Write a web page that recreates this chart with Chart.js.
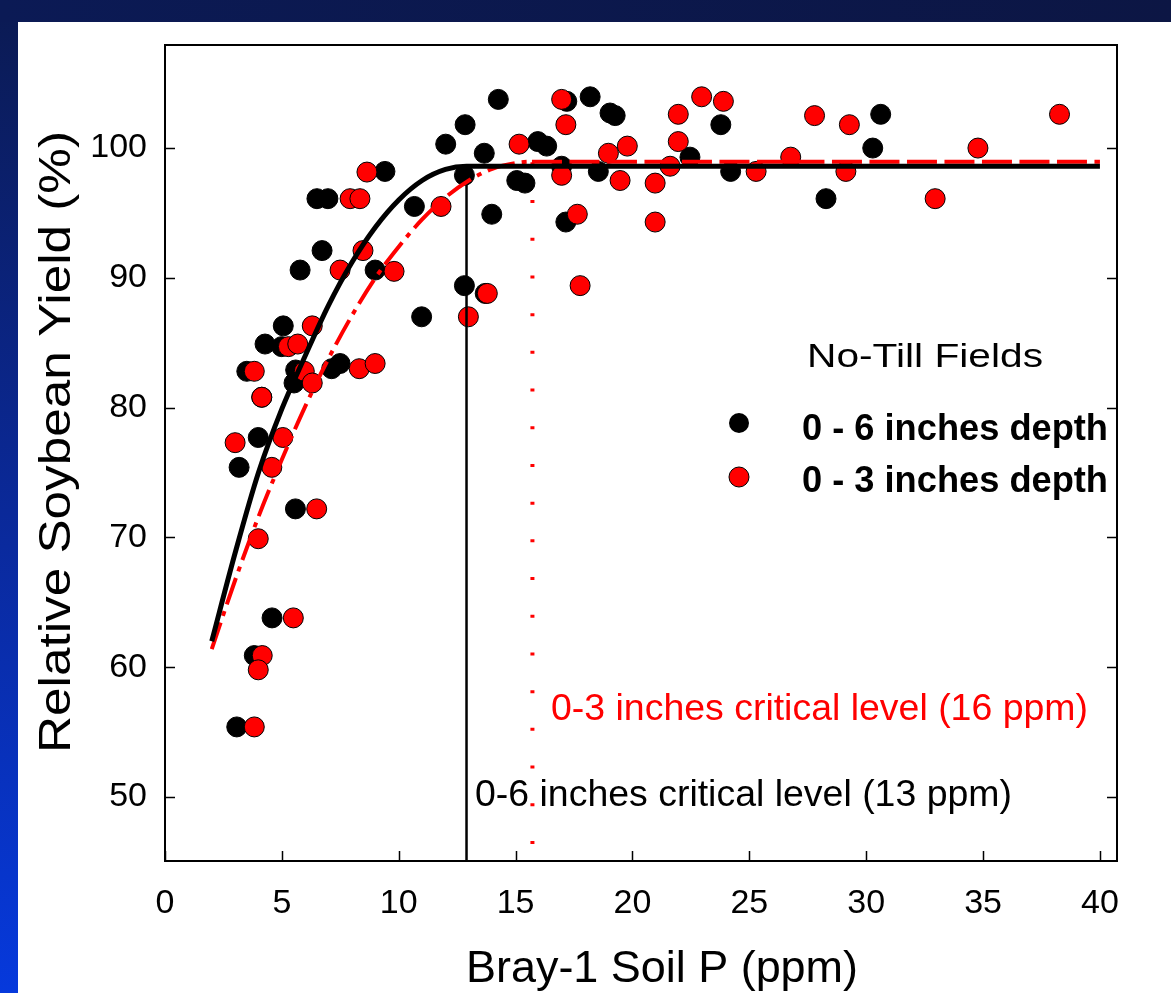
<!DOCTYPE html>
<html>
<head>
<meta charset="utf-8">
<script src="https://cdn.jsdelivr.net/npm/chart.js@4/dist/chart.umd.min.js"></script>
<style>
  body { margin: 0; }
  #frame { position: relative; width: 1171px; height: 993px; overflow: hidden;
           background: linear-gradient(to bottom, #0b1a52 0%, #0a2a9e 55%, #0639dc 100%); }
  #topbar { position: absolute; left: 0; top: 0; width: 1171px; height: 22px;
            background: linear-gradient(to right, #0b1a55, #0c1644); }
  #panel { position: absolute; left: 18px; top: 22px; right: 0; bottom: 0; background: #fff; }
  #chart { position: absolute; left: 0; top: 0; }
</style>
</head>
<body>
<div id="frame">
  <div id="topbar"></div>
  <div id="panel"></div>
  <canvas id="chart" width="1171" height="993"></canvas>
</div>
<script>
// 0 - 6 inches depth (black dots)
var deepP = [5.06, 4.28, 4.99, 3.50, 5.59, 5.52, 7.13, 7.49, 10.98, 4.14, 3.99, 3.17, 5.58, 4.58, 3.82, 3.07,
             9.41, 14.26, 12.84, 12.01, 13.66, 12.81, 15.95, 16.33, 17.19, 18.19, 19.04, 19.26, 16.97, 18.54,
             22.46, 23.78, 24.2, 15.05, 15.4, 10.67, 13.98, 17.15, 12.81, 13.7, 28.28, 30.62, 30.28,
             6.50, 6.97, 6.72, 5.78, 8.99];
var deepYield = [86.3, 84.9, 84.7, 82.8, 82.9, 81.9, 83.0, 83.4, 87.0, 80.8, 77.7, 75.4, 72.2, 63.8, 60.9, 55.4,
                 98.2, 103.75, 101.8, 100.3, 99.6, 97.9, 100.5, 100.15, 103.6, 103.95, 102.7, 102.5, 98.6, 98.2,
                 99.3, 101.8, 98.2, 97.5, 97.3, 95.5, 94.9, 94.3, 89.4, 88.8, 96.1, 102.6, 100.0,
                 96.1, 96.1, 92.1, 90.6, 90.6];

// 0 - 3 inches depth (red dots)
var shallowP = [6.30, 5.28, 5.68, 3.82, 5.96, 6.30, 8.31, 8.99, 4.14, 3.0, 5.04, 4.57, 6.49, 3.99, 5.49, 4.16, 3.99, 3.82,
                15.15, 16.97, 17.15, 16.97, 18.97, 19.78, 19.47, 20.97, 21.96, 21.96, 22.96, 23.89, 21.61,
                11.81, 17.64, 20.97, 9.8, 13.79, 17.76, 12.98, 25.29, 26.77, 27.79, 29.28, 29.13, 32.95, 34.78, 38.27,
                7.92, 8.34, 8.64, 8.47, 7.49];
var shallowYield = [86.3, 84.7, 84.9, 82.8, 82.8, 81.9, 83.0, 83.4, 80.8, 77.3, 77.7, 75.4, 72.2, 69.9, 63.8, 60.9, 59.8, 55.4,
                    100.3, 103.75, 101.8, 97.9, 99.6, 100.15, 97.5, 97.3, 102.6, 100.5, 103.95, 103.6, 98.6,
                    95.5, 94.9, 94.3, 90.5, 88.8, 89.4, 87.0, 98.2, 99.3, 102.5, 101.8, 98.2, 96.1, 100.0, 102.6,
                    96.1, 96.1, 98.15, 92.1, 90.6];

// fitted quadratic-plateau curves
var deepFitP = [2, 3, 4, 5, 6, 7, 8, 9, 10, 11, 12, 12.9, 40];
var deepFitYield = [62.0, 68.8, 75.0, 79.9, 84.0, 87.9, 91.2, 93.9, 96.0, 97.5, 98.35, 98.6, 98.6];
var shallowFitP = [2, 3, 4, 5, 6, 7, 8, 9, 10, 11, 12, 13, 14, 15, 15.7, 40];
var shallowFitYield = [61.4, 66.7, 71.6, 76.0, 80.1, 83.8, 87.1, 90.0, 92.4, 94.5, 96.2, 97.5, 98.4, 98.85, 98.95, 98.95];

var criticalDeep = 12.9;
var criticalShallow = 15.72;

var xTicks = [0, 5, 10, 15, 20, 25, 30, 35, 40];
var yTicks = [50, 60, 70, 80, 90, 100];

var FONT = "'Liberation Sans', Arial, sans-serif";

function toPoints(xs, ys) {
    var pts = [];
    for (var i = 0; i < xs.length; i++) {
        pts.push({x: xs[i], y: ys[i]});
    }
    return pts;
}

// draws text squeezed/stretched to a given width, the slide's text boxes are not to scale
function fitText(ctx, text, x, y, font, color, width, align) {
    ctx.save();
    ctx.font = font;
    ctx.fillStyle = color;
    ctx.textBaseline = 'alphabetic';
    ctx.textAlign = align || 'left';
    var sx = width ? width / ctx.measureText(text).width : 1;
    ctx.translate(x, y);
    ctx.scale(sx, 1);
    ctx.fillText(text, 0, 0);
    ctx.restore();
}

var frameAndText = {
    id: 'frameAndText',
    afterDatasetsDraw: function(chart) {
        var ctx = chart.ctx, a = chart.chartArea;
        var xs = chart.scales.x, ys = chart.scales.y;
        ctx.save();
        ctx.strokeStyle = '#000';
        ctx.lineWidth = 2;
        ctx.strokeRect(a.left, a.top, a.right - a.left, a.bottom - a.top);

        // inward ticks, left/right/bottom
        ctx.lineWidth = 1.5;
        ctx.beginPath();
        xTicks.forEach(function(v) {
            var px = Math.round(xs.getPixelForValue(v)) + 0.5;
            ctx.moveTo(px, a.bottom);
            ctx.lineTo(px, a.bottom - 10);
        });
        yTicks.forEach(function(v) {
            var py = Math.round(ys.getPixelForValue(v)) + 0.5;
            ctx.moveTo(a.left, py);
            ctx.lineTo(a.left + 10, py);
            ctx.moveTo(a.right, py);
            ctx.lineTo(a.right - 10, py);
        });
        ctx.stroke();

        // axis titles
        fitText(ctx, 'Bray-1 Soil P (ppm)', 662, 982, '44px ' + FONT, '#000', 392, 'center');
        ctx.save();
        ctx.translate(70, 442);
        ctx.rotate(-Math.PI / 2);
        fitText(ctx, 'Relative Soybean Yield (%)', 0, 0, '44px ' + FONT, '#000', 622, 'center');
        ctx.restore();

        // legend
        fitText(ctx, 'No-Till Fields', 807, 367, '34px ' + FONT, '#000', 236);
        ctx.lineWidth = 1;
        ctx.beginPath();
        ctx.arc(739, 423, 10, 0, Math.PI * 2);
        ctx.fillStyle = '#000';
        ctx.fill();
        ctx.beginPath();
        ctx.arc(739, 477, 10, 0, Math.PI * 2);
        ctx.fillStyle = '#ff0000';
        ctx.fill();
        ctx.stroke();
        fitText(ctx, '0 - 6 inches depth', 802, 440, 'bold 36px ' + FONT, '#000', 306);
        fitText(ctx, '0 - 3 inches depth', 802, 492, 'bold 36px ' + FONT, '#000', 306);

        // critical level notes
        fitText(ctx, '0-3 inches critical level (16 ppm)', 551, 720, '36px ' + FONT, '#ff0000', 537);
        fitText(ctx, '0-6 inches critical level (13 ppm)', 475, 806, '36px ' + FONT, '#000', 537);
        ctx.restore();
    }
};

var ctx = document.getElementById('chart');
var myChart = new Chart(ctx, {
    type: 'scatter',
    data: {
        datasets: [{
            type: 'line',
            data: toPoints(deepFitP, deepFitYield),
            borderColor: '#000',
            borderWidth: 5,
            pointRadius: 0,
            cubicInterpolationMode: 'monotone',
            order: 1
        }, {
            type: 'line',
            data: toPoints(shallowFitP, shallowFitYield),
            borderColor: '#ff0000',
            borderWidth: 4,
            borderCapStyle: 'butt',
            pointRadius: 0,
            cubicInterpolationMode: 'monotone',
            segment: {
                borderDash: function(c) {
                    return c.p0.parsed.x >= criticalShallow - 0.1 ? [30, 7.5] : [28, 7, 5, 7];
                }
            },
            order: 2
        }, {
            type: 'line',
            data: [{x: criticalDeep, y: 98.6}, {x: criticalDeep, y: 45}],
            borderColor: '#000',
            borderWidth: 2.5,
            pointRadius: 0,
            order: 3
        }, {
            type: 'line',
            data: [{x: criticalShallow, y: 98.9}, {x: criticalShallow, y: 45}],
            borderColor: '#ff0000',
            borderWidth: 4,
            borderDash: [3, 34.7],
            borderCapStyle: 'butt',
            pointRadius: 0,
            order: 3
        }, {
            label: '0 - 3 inches depth',
            data: toPoints(shallowP, shallowYield),
            backgroundColor: '#ff0000',
            borderColor: '#000',
            borderWidth: 1,
            pointRadius: 10,
            order: 4
        }, {
            label: '0 - 6 inches depth',
            data: toPoints(deepP, deepYield),
            backgroundColor: '#000',
            borderColor: '#000',
            borderWidth: 1,
            pointRadius: 10,
            order: 5
        }]
    },
    options: {
        responsive: false,
        animation: false,
        devicePixelRatio: 1,
        layout: {
            autoPadding: false,
            padding: {left: 0, top: 45, right: 54, bottom: 0}
        },
        plugins: {
            legend: { display: false },
            tooltip: { enabled: false }
        },
        scales: {
            x: {
                type: 'linear',
                min: 0,
                max: 40.73,
                afterBuildTicks: function(s) {
                    s.ticks = xTicks.map(function(v) { return {value: v}; });
                },
                afterFit: function(s) { s.height = 132; },
                grid: { display: false, drawTicks: false },
                border: { display: false },
                ticks: { padding: 22, color: '#000', font: {family: FONT, size: 34} }
            },
            y: {
                type: 'linear',
                min: 45.07,
                max: 107.94,
                afterBuildTicks: function(s) {
                    s.ticks = yTicks.map(function(v) { return {value: v}; });
                },
                afterFit: function(s) { s.width = 165; },
                grid: { display: false, drawTicks: false },
                border: { display: false },
                ticks: { padding: 18, color: '#000', font: {family: FONT, size: 34} }
            }
        }
    },
    plugins: [frameAndText]
});
</script>
</body>
</html>
